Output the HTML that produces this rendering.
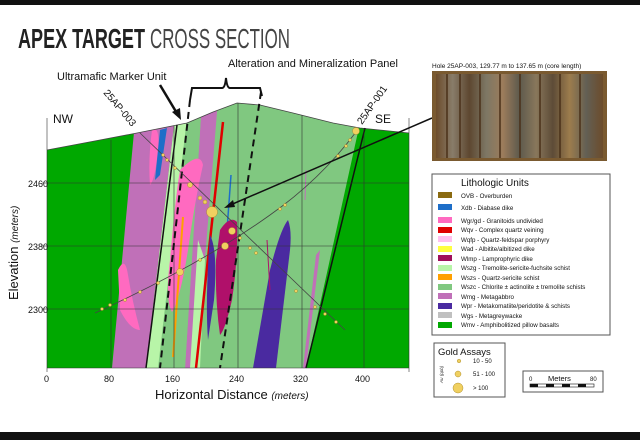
<!DOCTYPE html>
<html><head><meta charset="utf-8"><style>
html,body{margin:0;padding:0;background:#fff;width:640px;height:440px;overflow:hidden}
svg{display:block;font-family:"Liberation Sans",sans-serif}
</style></head><body>
<svg width="640" height="440" viewBox="0 0 640 440" xmlns="http://www.w3.org/2000/svg">
<defs>
<clipPath id="ground"><path d="M47,150 L100,140 L137,133 L177,125 L187,123 L213,112 L237,103 L260,105 L293,113 L333,123 L360,128 L409,133 L409,368 L47,368 Z"/></clipPath>
<linearGradient id="core" x1="0" x2="1" y1="0" y2="0">
<stop offset="0" stop-color="#6b4a2a"/><stop offset="0.1" stop-color="#8a8070"/><stop offset="0.2" stop-color="#5a4530"/><stop offset="0.3" stop-color="#7d7a6a"/><stop offset="0.4" stop-color="#a08060"/><stop offset="0.5" stop-color="#5a5a50"/><stop offset="0.6" stop-color="#8a7a60"/><stop offset="0.7" stop-color="#5a4a38"/><stop offset="0.8" stop-color="#a08050"/><stop offset="0.9" stop-color="#606058"/><stop offset="1" stop-color="#6b4a2a"/>
</linearGradient>
</defs>
<rect x="0" y="0" width="640" height="5" fill="#111"/>
<rect x="0" y="432" width="640" height="8" fill="#111"/>
<text x="18" y="48" font-size="28" font-weight="bold" fill="#222" textLength="127" lengthAdjust="spacingAndGlyphs">APEX TARGET</text>
<text x="150" y="48" font-size="28" fill="#444" textLength="140" lengthAdjust="spacingAndGlyphs">CROSS SECTION</text>

<g clip-path="url(#ground)">
<rect x="47" y="95" width="362" height="280" fill="#00a800"/>
<polygon points="177,100 365,100 306,368 146,368" fill="#80c880"/>
<polygon points="137,100 177,100 146,368 112,368" fill="#c070b8"/>
<polygon points="177,100 189,100 158,368 146,368" fill="#b8f5a8"/>
<polygon points="202,100 218,100 196,368 185,368" fill="#c070b8"/>
<polygon points="189,100 202,100 185,368 178,368 185,250 194,180" fill="#80c880"/>
<polygon points="198,240 205,260 200,368 190,368" fill="#b8f5a8"/>
<path d="M180,170 Q200,150 203,165 Q195,200 188,250 Q180,300 172,312 Q165,300 170,260 Q175,200 180,170Z" fill="#ff6ac0"/>
<path d="M118,270 Q125,255 128,275 Q132,300 140,330 Q130,330 120,310 Z" fill="#ff6ac0"/>
<path d="M152,130 Q160,125 158,150 Q155,180 150,185 Q148,160 152,130Z" fill="#ff6ac0"/>
<path d="M160,130 L167,128 L160,175 L155,180Z" fill="#1e6ec8"/>
<line x1="223" y1="122" x2="196" y2="368" stroke="#e00000" stroke-width="2.5"/>
<line x1="183" y1="217" x2="173" y2="357" stroke="#ffa000" stroke-width="2"/>
<line x1="231" y1="175" x2="227" y2="230" stroke="#1e6ec8" stroke-width="1.5"/>
<path d="M220,230 Q230,215 237,222 Q238,260 232,300 Q225,330 220,335 Q215,300 216,260 Z" fill="#b0106a"/>
<path d="M210,235 Q218,250 214,300 L208,340 Q205,300 210,235Z" fill="#4a2aa0"/>
<path d="M288,220 Q292,230 290,250 L276,368 L253,368 L270,270 Q280,230 288,220Z" fill="#4a2aa0"/>
<path d="M316,255 L320,250 L306,368 L303,368Z" fill="#c070b8"/>
<line x1="267" y1="240" x2="270" y2="290" stroke="#b0106a" stroke-width="1"/>
<line x1="306" y1="170" x2="305" y2="200" stroke="#c070b8" stroke-width="1"/>
</g>
<path d="M47,150 L100,140 L137,133 L177,125 L187,123 L213,112 L237,103 L260,105 L293,113 L333,123 L360,128 L409,133" fill="none" stroke="#444" stroke-width="0.8"/>
<line x1="177" y1="125" x2="146" y2="368" stroke="#111" stroke-width="1.5"/>
<line x1="365" y1="128" x2="306" y2="368" stroke="#111" stroke-width="1.5"/>
<g stroke="#333" stroke-width="0.6">
<line x1="47" y1="183" x2="409" y2="183"/><line x1="47" y1="246" x2="409" y2="246"/><line x1="47" y1="309" x2="409" y2="309"/>
<line x1="111" y1="140" x2="111" y2="368"/><line x1="174" y1="126" x2="174" y2="368"/><line x1="238" y1="103" x2="238" y2="368"/><line x1="302" y1="115" x2="302" y2="368"/><line x1="364" y1="128" x2="364" y2="368"/>
<line x1="47" y1="118" x2="47" y2="372"/><line x1="409" y1="118" x2="409" y2="372"/>
<line x1="47" y1="368" x2="409" y2="368"/>
<line x1="42" y1="183" x2="47" y2="183"/><line x1="42" y1="246" x2="47" y2="246"/><line x1="42" y1="309" x2="47" y2="309"/>
</g>
<line x1="190" y1="100" x2="160" y2="368" stroke="#111" stroke-width="2" stroke-dasharray="7,5"/>
<line x1="261" y1="92" x2="220" y2="368" stroke="#111" stroke-width="2" stroke-dasharray="7,5"/>
<path d="M190,100 L192,88 L222,88 Q225,88 226,78 Q227,88 230,88 L260,88 L262,96" fill="none" stroke="#111" stroke-width="2"/>
<line x1="140" y1="133" x2="345" y2="330" stroke="#444" stroke-width="0.8"/>
<path d="M356,132 Q320,180 270,215 Q200,265 95,313" fill="none" stroke="#444" stroke-width="0.8"/>
<g fill="#f0d060" stroke="#b09030" stroke-width="0.5">
<circle cx="212" cy="212" r="5.5"/><circle cx="232" cy="231" r="3.5"/><circle cx="225" cy="246" r="3.5"/><circle cx="180" cy="272" r="3.5"/><circle cx="356" cy="131" r="3.5"/>
<circle cx="190" cy="185" r="2.5"/><circle cx="200" cy="198" r="2"/><circle cx="205" cy="202" r="2"/><circle cx="163" cy="155" r="1.5"/><circle cx="167" cy="160" r="1.5"/><circle cx="175" cy="168" r="1.5"/>
<circle cx="240" cy="238" r="1.5"/><circle cx="250" cy="248" r="1.5"/><circle cx="256" cy="253" r="1.5"/><circle cx="296" cy="291" r="1.5"/><circle cx="315" cy="307" r="1.5"/><circle cx="325" cy="314" r="1.5"/><circle cx="336" cy="322" r="1.5"/>
<circle cx="350" cy="140" r="1.5"/><circle cx="346" cy="146" r="1.5"/><circle cx="338" cy="156" r="1.5"/><circle cx="280" cy="209" r="1.5"/><circle cx="285" cy="205" r="1.5"/><circle cx="200" cy="260" r="1.5"/><circle cx="158" cy="283" r="1.5"/><circle cx="140" cy="292" r="1.5"/><circle cx="125" cy="300" r="1.5"/><circle cx="110" cy="305" r="1.5"/><circle cx="102" cy="309" r="1.5"/>
</g>
<g font-size="11" fill="#111">
<text x="28" y="187" font-size="9">2460</text><text x="28" y="250" font-size="9">2380</text><text x="28" y="313" font-size="9">2300</text>
<text x="44" y="382" font-size="9">0</text><text x="104" y="382" font-size="9">80</text><text x="165" y="382" font-size="9">160</text><text x="229" y="382" font-size="9">240</text><text x="293" y="382" font-size="9">320</text><text x="355" y="382" font-size="9">400</text>
<text x="155" y="399" font-size="13">Horizontal Distance <tspan font-style="italic" font-size="10">(meters)</tspan></text>
<text transform="translate(18,300) rotate(-90)" font-size="13">Elevation <tspan font-style="italic" font-size="10">(meters)</tspan></text>
<text x="53" y="123" font-size="12">NW</text><text x="375" y="123" font-size="12">SE</text>
<text x="57" y="80" font-size="11">Ultramafic Marker Unit</text>
<text x="228" y="67" font-size="11">Alteration and Mineralization Panel</text>
<text transform="translate(103,93) rotate(50)" font-size="10">25AP-003</text>
<text transform="translate(362,125) rotate(-55)" font-size="10">25AP-001</text>
</g>
<line x1="160" y1="85" x2="178" y2="115" stroke="#111" stroke-width="2.5"/>
<polygon points="181,120 172,112 180,108" fill="#111"/>
<line x1="432" y1="118" x2="228" y2="206" stroke="#111" stroke-width="1.5"/>
<polygon points="224,208 233,200 235,207" fill="#111"/>
<text x="432" y="68" font-size="6.5" fill="#111">Hole 25AP-003, 129.77 m to 137.65 m (core length)</text>
<rect x="432" y="71" width="175" height="90" fill="#7a5a30"/>
<rect x="436" y="74" width="167" height="84" fill="url(#core)" opacity="0.9"/>
<g stroke="#4a3018" stroke-width="1.5"><line x1="447" y1="74" x2="447" y2="158"/><line x1="460" y1="74" x2="460" y2="158"/><line x1="480" y1="74" x2="480" y2="158"/><line x1="500" y1="74" x2="500" y2="158"/><line x1="520" y1="74" x2="520" y2="158"/><line x1="540" y1="74" x2="540" y2="158"/><line x1="560" y1="74" x2="560" y2="158"/><line x1="580" y1="74" x2="580" y2="158"/></g>
<rect x="432" y="174" width="178" height="161" fill="#fff" stroke="#555" stroke-width="1"/>
<text x="461" y="186" font-size="10" fill="#111">Lithologic Units</text>
<g font-size="6.2" fill="#111">
<rect x="438" y="192" width="14" height="6" fill="#8a6a10"/><text x="461" y="198">OVB - Overburden</text>
<rect x="438" y="204" width="14" height="6" fill="#1e6ec8"/><text x="461" y="210">Xdb - Diabase dike</text>
<rect x="438" y="217" width="14" height="6" fill="#ff6ac0"/><text x="461" y="223">Wgr/gd - Granitoids undivided</text>
<rect x="438" y="227" width="14" height="6" fill="#e00000"/><text x="461" y="232">Wqv - Complex quartz veining</text>
<rect x="438" y="236" width="14" height="6" fill="#ffc0f0"/><text x="461" y="242">Wqfp - Quartz-feldspar porphyry</text>
<rect x="438" y="246" width="14" height="6" fill="#ffff40"/><text x="461" y="251">Wad - Albitite/albitized dike</text>
<rect x="438" y="255" width="14" height="6" fill="#a0105a"/><text x="461" y="261">Wlmp - Lamprophyric dike</text>
<rect x="438" y="265" width="14" height="6" fill="#b8f5a8"/><text x="461" y="270">Wszg - Tremolite-sericite-fuchsite schist</text>
<rect x="438" y="274" width="14" height="6" fill="#ffa000"/><text x="461" y="280">Wszs - Quartz-sericite schist</text>
<rect x="438" y="284" width="14" height="6" fill="#80c880"/><text x="461" y="289">Wszc - Chlorite ± actinolite ± tremolite schists</text>
<rect x="438" y="293" width="14" height="6" fill="#c070b8"/><text x="461" y="299">Wmg - Metagabbro</text>
<rect x="438" y="303" width="14" height="6" fill="#4a2aa0"/><text x="461" y="308">Wpr - Metakomatiite/peridotite &amp; schists</text>
<rect x="438" y="312" width="14" height="6" fill="#c0c0c0"/><text x="461" y="318">Wgs - Metagreywacke</text>
<rect x="438" y="322" width="14" height="6" fill="#00a800"/><text x="461" y="327">Wmv - Amphibolitized pillow basalts</text>
</g>
<rect x="434" y="343" width="71" height="54" fill="#fff" stroke="#555"/>
<text x="438" y="355" font-size="9.5" fill="#111">Gold Assays</text>
<text transform="translate(443,383) rotate(-90)" font-size="4.5" font-style="italic" fill="#333">Au (ppb)</text>
<g fill="#f0d060" stroke="#b09030" stroke-width="0.5"><circle cx="459" cy="361" r="1.8"/><circle cx="458" cy="374" r="3"/><circle cx="458" cy="388" r="5"/></g>
<g font-size="6" fill="#111"><text x="473" y="363">10 - 50</text><text x="473" y="376">51 - 100</text><text x="473" y="390">&gt;  100</text></g>
<rect x="523" y="371" width="80" height="21" fill="#fff" stroke="#555"/>
<text x="529" y="381" font-size="6" fill="#111">0</text><text x="548" y="381" font-size="7.5" fill="#111">Meters</text><text x="590" y="381" font-size="6" fill="#111">80</text>
<rect x="530" y="384" width="64" height="3" fill="#fff" stroke="#111" stroke-width="0.6"/>
<g fill="#111"><rect x="530" y="384" width="8" height="3"/><rect x="546" y="384" width="8" height="3"/><rect x="562" y="384" width="8" height="3"/><rect x="578" y="384" width="8" height="3"/></g>
</svg>
</body></html>
